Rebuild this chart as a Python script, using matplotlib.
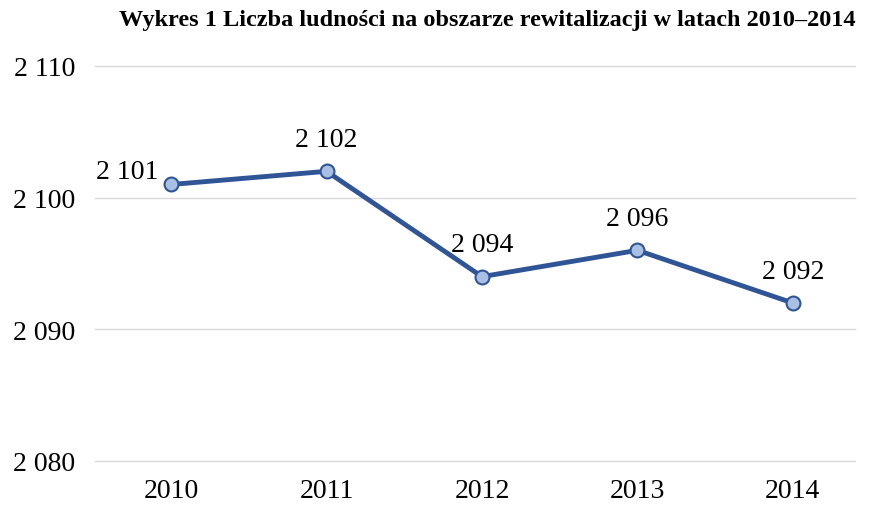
import matplotlib.pyplot as plt

years = ["2010", "2011", "2012", "2013", "2014"]
population = [2101, 2102, 2094, 2096, 2092]
y_ticks = [2080, 2090, 2100, 2110]
y_tick_labels = ["2 080", "2 090", "2 100", "2 110"]

plt.rcParams["font.family"] = ["Liberation Serif", "DejaVu Serif"]

fig = plt.figure(figsize=(8.69, 5.06), dpi=100)
ax = fig.add_axes([0.1093, 0.087, 0.8746, 0.7806])

x = range(len(years))
ax.plot(x, population, color="#2F5597", linewidth=3.5, marker="o",
        markersize=10, markerfacecolor="#A9BFE4", markeredgecolor="#2F5597",
        markeredgewidth=1.5, zorder=3)

for i, v in enumerate(population):
    label = f"{v // 1000} {v % 1000:03d}"
    if i == 0:
        ax.annotate(label, (i, v), xytext=(-9, 9), textcoords="offset points",
                    ha="right", va="center", fontsize=20)
    else:
        ax.annotate(label, (i, v), xytext=(0, 23), textcoords="offset points",
                    ha="center", va="center", fontsize=20)

ax.set_xlim(-0.49, 4.40)
ax.set_ylim(2080, 2110)
ax.set_xticks(list(x))
ax.set_xticklabels(years, fontsize=20)
ax.set_yticks(y_ticks)
ax.set_yticklabels(y_tick_labels, fontsize=20)
ax.tick_params(length=0)
ax.tick_params(axis="y", pad=14)
ax.tick_params(axis="x", pad=12)
ax.grid(axis="y", color="#D9D9D9", linewidth=1)
for line in ax.get_ygridlines():
    line.set_clip_on(False)
ax.set_axisbelow(True)
for s in ax.spines.values():
    s.set_visible(False)

fig.text(0.561, 0.96, "Wykres 1 Liczba ludności na obszarze rewitalizacji w latach 2010–2014",
         ha="center", va="center", fontsize=17.5, fontweight="bold")

fig.savefig("out.png", dpi=100)
